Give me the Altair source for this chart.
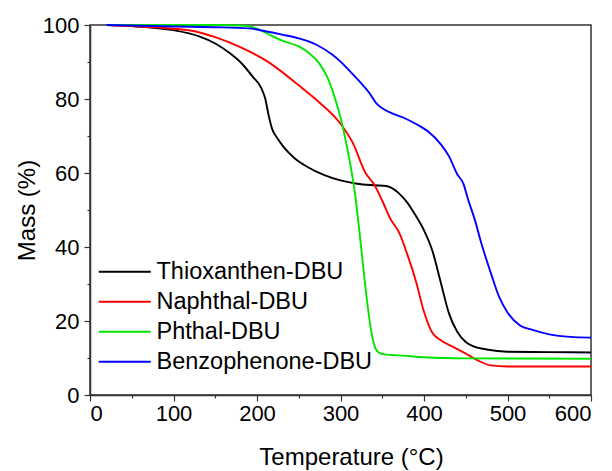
import altair as alt
import pandas as pd

series_names = ["Thioxanthen-DBU", "Naphthal-DBU", "Phthal-DBU", "Benzophenone-DBU"]
series_colors = ["#000000", "#ff0000", "#00e600", "#0000ff"]

thio_T = [20, 50, 100, 130, 150, 168, 180, 195, 205, 210, 214, 218, 224, 232, 245, 260, 280, 300, 320, 340, 355, 370, 380, 390, 400, 410, 420, 430, 440, 450, 460, 475, 500, 550, 600]
thio_M = [100, 99.7, 98.6, 97, 95, 92.3, 90, 86, 83, 80, 75.5, 72, 69.5, 67, 64, 61.7, 59.5, 58, 57.1, 56.7, 56.5, 54.5, 52, 48.5, 44.5, 39, 30.5, 22, 17, 14.3, 13.1, 12.3, 11.7, 11.6, 11.5]

naph_T = [20, 50, 100, 120, 150, 180, 210, 250, 275, 300, 315, 330, 340, 350, 360, 370, 380, 390, 400, 410, 420, 435, 450, 465, 480, 500, 600]
naph_M = [100, 99.7, 99, 98.5, 96.7, 94, 90.5, 83.7, 79, 73.3, 68, 60, 57, 52.5, 47.5, 44, 38, 31, 22.5, 16.8, 14.8, 13, 11.2, 9.3, 8, 7.7, 7.7]

phth_T = [20, 100, 150, 185, 200, 212, 230, 250, 263, 275, 285, 293, 300, 306, 312, 317, 322, 327, 332, 337, 342, 347, 355, 370, 400, 450, 600]
phth_M = [100, 100, 100, 99.8, 99, 97.7, 95.8, 94.2, 92.3, 89.5, 85.5, 80.5, 75, 69, 62, 55, 45.5, 35, 25, 17, 12.5, 11.3, 10.9, 10.7, 10.2, 9.9, 9.8]

benz_T = [20, 100, 150, 190, 210, 230, 250, 270, 290, 300, 310, 323, 335, 343, 350, 360, 375, 390, 405, 420, 430, 440, 447, 453, 460, 470, 480, 490, 500, 515, 530, 550, 575, 600]
benz_M = [100, 99.6, 99.4, 99.1, 98.3, 97.4, 96.4, 94.8, 92, 90.1, 87.8, 84.7, 81.5, 78.8, 77.5, 76.3, 75, 73.3, 71.2, 67.8, 64.5, 59.6, 57.2, 52.7, 48, 40, 33, 26.5, 22.3, 18.8, 17.6, 16.4, 15.7, 15.5]

x_ticks = [0, 50, 100, 150, 200, 250, 300, 350, 400, 450, 500, 550, 600]
y_ticks = [0, 10, 20, 30, 40, 50, 60, 70, 80, 90, 100]

rows = []
for name, Ts, Ms in zip(series_names, [thio_T, naph_T, phth_T, benz_T], [thio_M, naph_M, phth_M, benz_M]):
    for i, (t, m) in enumerate(zip(Ts, Ms)):
        rows.append({"series": name, "T": t, "M": m, "order": i})
df = pd.DataFrame(rows)

FONT = "Arial, Liberation Sans, sans-serif"

chart = alt.Chart(df).mark_line(strokeWidth=1.9, interpolate="monotone").encode(
    x=alt.X("T:Q", scale=alt.Scale(domain=[0, 600], nice=False),
            axis=alt.Axis(title="Temperature (°C)", values=x_ticks, grid=False,
                          labelExpr="datum.value % 100 === 0 ? datum.label : ''",
                          tickSize={"condition": {"test": "datum.value % 100 === 0", "value": 6}, "value": 3},
                          labelPadding=2, titlePadding=21, titleX=261)),
    y=alt.Y("M:Q", scale=alt.Scale(domain=[0, 100], nice=False),
            axis=alt.Axis(title="Mass (%)", values=y_ticks, grid=False,
                          labelExpr="datum.value % 20 === 0 ? datum.label : ''",
                          tickSize={"condition": {"test": "datum.value % 20 === 0", "value": 6}, "value": 3},
                          labelPadding=5, titlePadding=3)),
    color=alt.Color("series:N", sort=series_names,
                    scale=alt.Scale(domain=series_names, range=series_colors),
                    legend=alt.Legend(title=None, orient="none", legendX=23, legendY=235,
                                      symbolType="M-2.6,0H2.6", symbolSize=400,
                                      symbolStrokeWidth=1.9, labelFontSize=23.5,
                                      labelFont=FONT, labelColor="#000", rowPadding=5,
                                      labelOffset=20, labelLimit=400)),
    detail="series:N",
    order="order:Q",
).properties(
    width=501, height=370,
    autosize=alt.AutoSizeParams(type="none"),
    padding={"left": 82, "top": 17, "right": 12, "bottom": 76},
).configure_view(
    stroke="#333", strokeWidth=1.5
).configure_axis(
    labelFont=FONT, titleFont=FONT, labelFontSize=22, titleFontSize=24,
    labelColor="#000", titleColor="#000", titleFontWeight="normal",
    domainColor="#333", domainWidth=1.5, tickColor="#333", tickWidth=1.2,
)

chart.save("out.html", embed_options={"renderer": "svg", "actions": False})
